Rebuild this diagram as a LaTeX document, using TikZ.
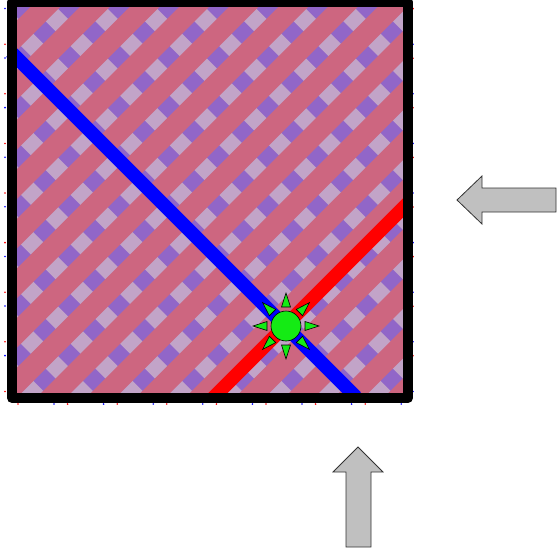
\documentclass[tikz,border=0pt]{standalone}
\usetikzlibrary{calc}
\definecolor{weavepink}{RGB}{205,102,128}
\definecolor{weavepurple}{RGB}{145,102,200}
\definecolor{weavelilac}{RGB}{194,164,200}
\definecolor{sungreen}{RGB}{20,235,20}
\definecolor{arrowgray}{RGB}{192,192,192}
\begin{document}
\begin{tikzpicture}[x=1pt,y=-1pt,
    bigarrow/.style={fill=arrowgray,draw=black!80,line width=0.8pt,line join=miter},
    sunpart/.style={fill=sungreen,draw=black,line width=0.6pt}]
    \useasboundingbox (0,0) rectangle (558,557);

    % Woven fill of the square
    \begin{scope}
        \clip (12,2) rectangle (408,398);
        \fill[weavepurple] (12,2) rectangle (408,398);
        \foreach \k in {-8,...,9}
            \draw[weavelilac,line width=17.5pt] ({-12.8+49.6*\k-50},-50) -- ({-12.8+49.6*\k+460},460);
        \foreach \k in {0,...,17}
            \draw[weavepink,line width=21pt] ({2.6+49.6*\k+50},-50) -- ({2.6+49.6*\k-460},460);
    \end{scope}

    % Small marks along the edges
    \foreach \k in {0,...,7} {
        \fill[red] (5,{44.2+49.6*\k}) circle[radius=0.9pt];
        \fill[blue] (5,{8.4+49.6*\k}) circle[radius=0.9pt];
        \fill[red] ({18+49.6*\k},404) circle[radius=0.9pt];
        \fill[blue] ({54+49.6*\k},404) circle[radius=0.9pt];
        \fill[red] (413,{8.6+49.6*\k}) circle[radius=0.9pt];
        \fill[blue] (413,{44.2+49.6*\k}) circle[radius=0.9pt];
    }

    % Diagonal bars
    \draw[blue,line width=13.5pt] (11,52) -- (356,397);
    \draw[red,line width=13.5pt] (213,398) -- (408,203);

    % Frame
    \draw[line width=10pt,line join=round] (12,2) rectangle (408,398);

    % Sun at the crossing
    \begin{scope}[shift={(286,326)}]
        \foreach \a in {0,45,...,315}
            \filldraw[sunpart,rotate=\a] (19,-4.5) -- (33,0) -- (19,4.5) -- cycle;
        \filldraw[sunpart] (0,0) circle[radius=15pt];
    \end{scope}

    % Arrows
    \filldraw[bigarrow] (457,200) -- (482,176) -- (482,188) -- (556,188)
        -- (556,212) -- (482,212) -- (482,224) -- cycle;
    \filldraw[bigarrow] (358,447) -- (383,472) -- (371,472) -- (371,547)
        -- (346,547) -- (346,472) -- (333,472) -- cycle;

\end{tikzpicture}
\end{document}
